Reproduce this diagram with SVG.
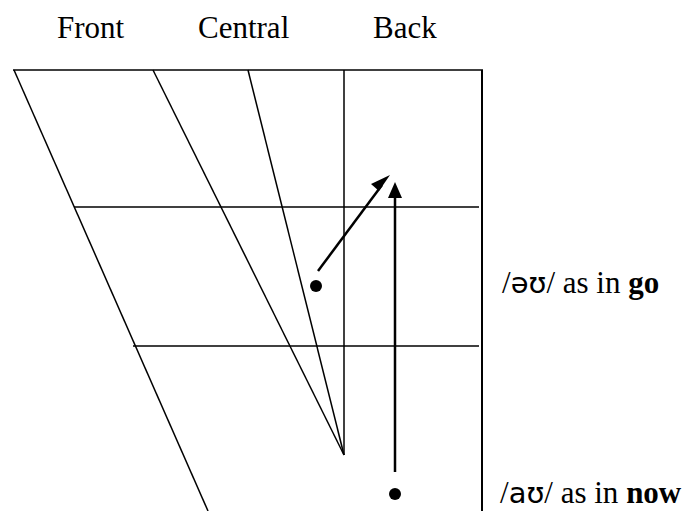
<svg xmlns="http://www.w3.org/2000/svg" width="697" height="511" viewBox="0 0 697 511">
<defs>
<style>
.ln{stroke:#000;stroke-width:1.5;fill:none}
.ar{stroke:#000;stroke-width:2.5;fill:none}
.t{font-family:"Liberation Serif","Times New Roman",serif;font-size:31px;fill:#000}
.ipa{font-family:"DejaVu Sans",sans-serif;font-size:29px}
</style>
</defs>
<rect width="697" height="511" fill="#fff"/>
<g id="headers">
<text class="t" x="57" y="38">Front</text>
<text class="t" x="198" y="38">Central</text>
<text class="t" x="373" y="38">Back</text>
</g>
<g id="chart">
<line class="ln" x1="13" y1="70" x2="483" y2="70"/>
<line class="ln" x1="482" y1="70" x2="482" y2="511" style="stroke-width:2"/>
<line class="ln" x1="14" y1="70" x2="208" y2="511"/>
<line class="ln" x1="153" y1="70" x2="344" y2="455"/>
<line class="ln" x1="248" y1="70" x2="344" y2="455"/>
<line class="ln" x1="344" y1="70" x2="344" y2="455"/>
<line class="ln" x1="74" y1="207" x2="479" y2="207"/>
<line class="ln" x1="133" y1="346" x2="479" y2="346"/>
</g>
<g id="connectors">
<line class="ar" x1="318" y1="271" x2="382" y2="185"/>
<path d="M390,175 L379,191 L371,184 z" fill="#000"/>
<line class="ar" x1="395" y1="472" x2="395" y2="196"/>
<path d="M395,182 L388,198 L402,198 z" fill="#000"/>
</g>
<g id="go">
<circle cx="316" cy="286" r="6" fill="#000"/>
<text class="t" x="502" y="293">/<tspan class="ipa">əʊ</tspan>/ as in <tspan font-weight="bold">go</tspan></text>
</g>
<g id="now">
<circle cx="395" cy="494" r="6" fill="#000"/>
<text class="t" x="500" y="503">/<tspan class="ipa">aʊ</tspan>/ as in <tspan font-weight="bold">now</tspan></text>
</g>
</svg>
